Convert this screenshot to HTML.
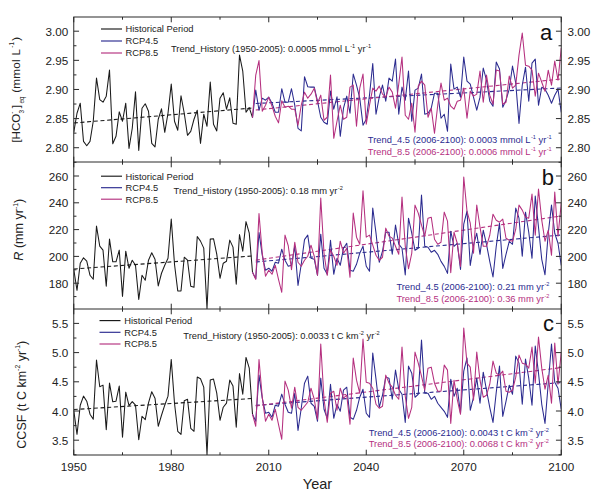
<!DOCTYPE html><html><head><meta charset="utf-8"><style>html,body{margin:0;padding:0;background:#fff}svg{display:block}text{font-family:"Liberation Sans",sans-serif;}</style></head><body>
<svg width="600" height="498" viewBox="0 0 600 498">
<rect width="600" height="498" fill="#fff"/>
<defs>
<clipPath id="c0"><rect x="73.75" y="17.0" width="487.5" height="145.0"/></clipPath>
<clipPath id="c1"><rect x="73.75" y="162.0" width="487.5" height="147.0"/></clipPath>
<clipPath id="c2"><rect x="73.75" y="309.0" width="487.5" height="146.0"/></clipPath>
</defs>
<g clip-path="url(#c0)">
<line x1="73.75" y1="123" x2="252.5" y2="108" stroke="#1a1a1a" stroke-width="1.1" stroke-dasharray="4,2.7"/>
<line x1="255.75" y1="103.5" x2="561.25" y2="88" stroke="#2b2b8f" stroke-width="1.1" stroke-dasharray="4,2.7"/>
<line x1="255.75" y1="110" x2="561.25" y2="79" stroke="#b5307f" stroke-width="1.1" stroke-dasharray="4,2.7"/>
<polyline points="73.75,132.31 77.00,113.23 80.25,103.19 83.50,141.35 86.75,145.76 90.00,141.35 93.25,121.27 96.50,78.09 99.75,99.58 103.00,102.19 106.25,96.16 109.50,70.06 112.75,143.76 116.00,136.33 119.25,111.83 122.50,121.27 125.75,103.19 129.00,148.37 132.25,128.29 135.50,91.75 138.75,150.38 142.00,108.21 145.25,103.80 148.50,111.22 151.75,143.35 155.00,146.97 158.25,119.26 161.50,108.82 164.75,132.31 168.00,113.23 171.25,84.12 174.50,121.27 177.75,130.30 181.00,95.76 184.25,113.23 187.50,135.32 190.75,131.31 194.00,119.26 197.25,110.22 200.50,143.35 203.75,114.24 207.00,126.29 210.25,82.11 213.50,124.28 216.75,130.90 220.00,98.17 223.25,92.75 226.50,109.22 229.75,97.77 233.00,123.27 236.25,124.28 239.50,55.00 242.75,71.06 246.00,112.23 249.25,107.61 252.50,117.65" fill="none" stroke="#1a1a1a" stroke-width="1.05" stroke-linejoin="round"/>
<polyline points="252.50,117.65 255.75,90.14 259.00,110.22 262.25,98.17 265.50,100.18 268.75,97.17 272.00,103.19 275.25,112.23 278.50,112.23 281.75,88.73 285.00,102.19 288.25,102.19 291.50,88.73 294.75,105.20 298.00,128.29 301.25,130.90 304.50,76.69 307.75,86.73 311.00,87.13 314.25,87.13 317.50,101.18 320.75,117.25 324.00,122.27 327.25,124.28 330.50,91.14 333.75,109.22 337.00,96.77 340.25,136.33 343.50,108.21 346.75,96.16 350.00,113.23 353.25,74.08 356.50,85.12 359.75,98.17 363.00,125.28 366.25,119.26 369.50,95.16 372.75,63.43 376.00,114.24 379.25,97.17 382.50,85.12 385.75,101.18 389.00,78.09 392.25,81.10 395.50,59.02 398.75,114.24 402.00,87.13 405.25,100.18 408.50,71.06 411.75,121.27 415.00,90.14 418.25,88.13 421.50,74.08 424.75,114.24 428.00,113.23 431.25,108.21 434.50,93.15 437.75,93.15 441.00,118.25 444.25,114.24 447.50,131.31 450.75,64.04 454.00,89.14 457.25,87.13 460.50,97.17 463.75,57.01 467.00,81.10 470.25,84.12 473.50,97.17 476.75,110.22 480.00,97.17 483.25,68.05 486.50,80.10 489.75,101.18 493.00,106.20 496.25,62.03 499.50,69.06 502.75,107.21 506.00,100.18 509.25,89.14 512.50,66.04 515.75,83.11 519.00,123.39 522.25,85.24 525.50,67.17 528.75,101.31 532.00,63.15 535.25,59.14 538.50,105.32 541.75,87.25 545.00,89.26 548.25,95.28 551.50,103.31 554.75,95.28 558.00,89.26 561.25,112.35" fill="none" stroke="#2b2b8f" stroke-width="1.05" stroke-linejoin="round"/>
<polyline points="252.50,117.65 255.75,75.08 259.00,60.62 262.25,111.22 265.50,105.20 268.75,97.17 272.00,106.20 275.25,116.24 278.50,122.87 281.75,100.78 285.00,107.21 288.25,106.20 291.50,109.22 294.75,109.22 298.00,125.28 301.25,105.20 304.50,92.15 307.75,98.17 311.00,94.16 314.25,88.13 317.50,103.19 320.75,95.16 324.00,120.26 327.25,117.25 330.50,75.08 333.75,138.33 337.00,121.27 340.25,105.20 343.50,119.26 346.75,117.25 350.00,87.13 353.25,85.12 356.50,126.29 359.75,88.13 363.00,74.08 366.25,124.28 369.50,105.20 372.75,88.13 376.00,91.14 379.25,86.12 382.50,94.16 385.75,97.17 389.00,87.13 392.25,92.15 395.50,108.21 398.75,84.12 402.00,57.01 405.25,115.24 408.50,119.26 411.75,103.19 415.00,132.31 418.25,86.12 421.50,81.10 424.75,85.12 428.00,117.25 431.25,108.21 434.50,133.31 437.75,105.20 441.00,83.11 444.25,100.18 447.50,98.17 450.75,106.20 454.00,109.22 457.25,101.18 460.50,100.18 463.75,88.13 467.00,118.25 470.25,91.14 473.50,96.16 476.75,94.16 480.00,71.06 483.25,102.19 486.50,75.08 489.75,95.16 493.00,104.20 496.25,70.06 499.50,71.06 502.75,104.20 506.00,102.19 509.25,76.08 512.50,88.13 515.75,85.12 519.00,55.12 522.25,33.03 525.50,65.16 528.75,66.16 532.00,70.18 535.25,96.29 538.50,73.19 541.75,82.23 545.00,91.27 548.25,70.18 551.50,85.24 554.75,61.14 558.00,80.22 561.25,48.09" fill="none" stroke="#b5307f" stroke-width="1.05" stroke-linejoin="round"/>
</g>
<g clip-path="url(#c1)">
<line x1="73.75" y1="269" x2="252.5" y2="256" stroke="#1a1a1a" stroke-width="1.1" stroke-dasharray="4,2.7"/>
<line x1="255.75" y1="262" x2="561.25" y2="235" stroke="#2b2b8f" stroke-width="1.1" stroke-dasharray="4,2.7"/>
<line x1="255.75" y1="260.2" x2="561.25" y2="216" stroke="#b5307f" stroke-width="1.1" stroke-dasharray="4,2.7"/>
<polyline points="73.75,269.24 77.00,290.32 80.25,263.21 83.50,257.79 86.75,261.20 90.00,275.26 93.25,279.28 96.50,226.06 99.75,246.14 103.00,250.16 106.25,286.31 109.50,239.12 112.75,261.81 116.00,261.81 119.25,250.16 122.50,296.35 125.75,251.16 129.00,268.23 132.25,260.20 135.50,265.22 138.75,299.36 142.00,275.26 145.25,280.28 148.50,260.20 151.75,252.77 155.00,259.20 158.25,285.90 161.50,273.25 164.75,265.22 168.00,258.19 171.25,219.04 174.50,264.22 177.75,290.92 181.00,290.92 184.25,257.19 187.50,260.20 190.75,286.31 194.00,287.31 197.25,236.51 200.50,241.12 203.75,248.15 207.00,308.80 210.25,239.12 213.50,238.71 216.75,254.18 220.00,278.27 223.25,263.21 226.50,261.20 229.75,240.12 233.00,247.15 236.25,284.30 239.50,234.50 242.75,251.16 246.00,221.65 249.25,233.09 252.50,272.25" fill="none" stroke="#1a1a1a" stroke-width="1.05" stroke-linejoin="round"/>
<polyline points="252.50,272.25 255.75,278.88 259.00,232.49 262.25,255.18 265.50,270.24 268.75,268.23 272.00,271.24 275.25,262.21 278.50,263.21 281.75,249.16 285.00,260.20 288.25,266.22 291.50,265.22 294.75,246.20 298.00,285.36 301.25,264.28 304.50,239.58 307.75,235.16 311.00,258.25 314.25,259.26 317.50,275.32 320.75,234.16 324.00,268.29 327.25,274.32 330.50,240.18 333.75,274.32 337.00,258.25 340.25,265.28 343.50,248.21 346.75,243.19 350.00,270.30 353.25,271.31 356.50,264.28 359.75,253.23 363.00,246.20 366.25,266.29 369.50,271.31 372.75,208.05 376.00,233.15 379.25,262.27 382.50,251.22 385.75,232.15 389.00,232.15 392.25,254.24 395.50,225.12 398.75,244.20 402.00,248.29 405.25,275.00 408.50,218.17 411.75,233.23 415.00,250.30 418.25,248.29 421.50,195.08 424.75,246.29 428.00,247.29 431.25,252.31 434.50,250.30 437.75,254.32 441.00,261.35 444.25,266.37 447.50,273.39 450.75,231.22 454.00,246.29 457.25,243.27 460.50,269.38 463.75,224.20 467.00,211.14 470.25,265.36 473.50,245.28 476.75,233.23 480.00,254.32 483.25,230.22 486.50,244.28 489.75,261.35 493.00,277.01 496.25,246.29 499.50,223.19 502.75,268.37 506.00,254.32 509.25,241.27 512.50,244.28 515.75,208.13 519.00,218.17 522.25,256.33 525.50,212.15 528.75,232.23 532.00,258.33 535.25,196.08 538.50,227.21 541.75,259.34 545.00,274.80 548.25,233.23 551.50,205.12 554.75,233.23 558.00,243.27 561.25,265.36" fill="none" stroke="#2b2b8f" stroke-width="1.05" stroke-linejoin="round"/>
<polyline points="252.50,272.25 255.75,279.28 259.00,213.61 262.25,253.17 265.50,276.27 268.75,270.24 272.00,274.26 275.25,265.22 278.50,279.28 281.75,292.33 285.00,235.10 288.25,245.74 291.50,269.64 294.75,242.19 298.00,262.27 301.25,266.29 304.50,260.26 307.75,256.24 311.00,245.20 314.25,256.24 317.50,275.32 320.75,198.01 324.00,253.23 327.25,275.32 330.50,250.22 333.75,256.24 337.00,265.28 340.25,241.18 343.50,253.23 346.75,248.21 350.00,277.33 353.25,213.07 356.50,237.17 359.75,244.20 363.00,190.78 366.25,237.17 369.50,235.16 372.75,245.20 376.00,255.24 379.25,260.26 382.50,257.25 385.75,228.13 389.00,236.16 392.25,238.17 395.50,246.20 398.75,254.24 402.00,197.09 405.25,246.29 408.50,268.78 411.75,253.31 415.00,205.12 418.25,213.15 421.50,225.20 424.75,236.24 428.00,218.17 431.25,217.17 434.50,239.26 437.75,244.28 441.00,242.27 444.25,212.15 447.50,221.18 450.75,272.79 454.00,232.23 457.25,243.27 460.50,266.37 463.75,177.01 467.00,211.14 470.25,223.19 473.50,253.31 476.75,205.12 480.00,227.21 483.25,246.29 486.50,246.29 489.75,235.24 493.00,214.16 496.25,220.18 499.50,222.19 502.75,219.18 506.00,238.25 509.25,240.26 512.50,241.27 515.75,229.22 519.00,205.12 522.25,210.14 525.50,217.17 528.75,218.17 532.00,194.08 535.25,235.24 538.50,189.06 541.75,220.18 545.00,241.27 548.25,230.22 551.50,255.32 554.75,192.07 558.00,236.24 561.25,203.11" fill="none" stroke="#b5307f" stroke-width="1.05" stroke-linejoin="round"/>
</g>
<g clip-path="url(#c2)">
<line x1="73.75" y1="409.5" x2="252.5" y2="398.5" stroke="#1a1a1a" stroke-width="1.1" stroke-dasharray="4,2.7"/>
<line x1="255.75" y1="405.4" x2="561.25" y2="382.6" stroke="#2b2b8f" stroke-width="1.1" stroke-dasharray="4,2.7"/>
<line x1="255.75" y1="405.9" x2="561.25" y2="367.6" stroke="#b5307f" stroke-width="1.1" stroke-dasharray="4,2.7"/>
<polyline points="73.75,410.22 77.00,434.32 80.25,405.20 83.50,396.16 86.75,401.18 90.00,414.24 93.25,419.26 96.50,360.02 99.75,386.73 103.00,385.12 106.25,429.70 109.50,383.11 112.75,401.79 116.00,401.18 119.25,386.12 122.50,437.33 125.75,392.15 129.00,405.60 132.25,401.59 135.50,405.20 138.75,439.74 142.00,416.24 145.25,419.66 148.50,402.79 151.75,391.75 155.00,398.17 158.25,426.29 161.50,415.24 164.75,405.20 168.00,396.16 171.25,359.42 174.50,403.19 177.75,431.31 181.00,434.32 184.25,400.78 187.50,399.18 190.75,428.29 194.00,431.31 197.25,377.09 200.50,378.69 203.75,387.13 207.00,454.80 210.25,380.10 213.50,379.10 216.75,393.15 220.00,420.26 223.25,407.21 226.50,403.19 229.75,380.10 233.00,386.12 236.25,427.29 239.50,373.47 242.75,394.16 246.00,357.41 249.25,368.05 252.50,414.24" fill="none" stroke="#1a1a1a" stroke-width="1.05" stroke-linejoin="round"/>
<polyline points="252.50,414.24 255.75,421.27 259.00,375.08 262.25,398.17 265.50,413.23 268.75,412.23 272.00,417.25 275.25,405.20 278.50,406.20 281.75,394.16 285.00,404.20 288.25,412.23 291.50,413.23 294.75,393.21 298.00,430.36 301.25,408.27 304.50,383.17 307.75,376.14 311.00,403.25 314.25,406.27 317.50,421.33 320.75,378.15 324.00,409.28 327.25,418.31 330.50,384.18 333.75,418.31 337.00,404.26 340.25,411.29 343.50,390.20 346.75,387.19 350.00,417.31 353.25,419.32 356.50,410.28 359.75,397.23 363.00,389.20 366.25,413.29 369.50,417.31 372.75,353.05 376.00,379.16 379.25,407.27 382.50,395.22 385.75,377.15 389.00,378.15 392.25,399.24 395.50,370.12 398.75,389.20 402.00,394.26 405.25,422.37 408.50,366.14 411.75,373.17 415.00,397.27 418.25,394.26 421.50,340.04 424.75,393.25 428.00,393.25 431.25,399.28 434.50,396.27 437.75,403.29 441.00,407.31 444.25,411.33 447.50,417.35 450.75,379.20 454.00,396.27 457.25,388.23 460.50,413.33 463.75,371.16 467.00,358.11 470.25,410.32 473.50,397.27 476.75,378.19 480.00,403.29 483.25,372.17 486.50,390.24 489.75,407.31 493.00,422.37 496.25,392.25 499.50,366.14 502.75,416.35 506.00,401.29 509.25,385.22 512.50,394.26 515.75,356.10 519.00,363.13 522.25,404.30 525.50,359.12 528.75,378.19 532.00,405.30 535.25,346.06 538.50,373.17 541.75,404.30 545.00,423.37 548.25,383.21 551.50,344.06 554.75,382.21 558.00,388.23 561.25,409.32" fill="none" stroke="#2b2b8f" stroke-width="1.05" stroke-linejoin="round"/>
<polyline points="252.50,414.24 255.75,426.29 259.00,359.42 262.25,397.17 265.50,421.27 268.75,414.24 272.00,420.26 275.25,409.22 278.50,424.28 281.75,439.34 285.00,381.10 288.25,390.14 291.50,408.21 294.75,387.19 298.00,407.27 301.25,410.28 304.50,406.27 307.75,402.25 311.00,388.19 314.25,399.24 317.50,419.32 320.75,344.02 324.00,399.24 327.25,422.33 330.50,393.21 333.75,391.20 337.00,410.28 340.25,388.19 343.50,398.23 346.75,395.22 350.00,424.34 353.25,358.07 356.50,380.16 359.75,393.21 363.00,339.00 366.25,382.17 369.50,383.17 372.75,388.19 376.00,404.26 379.25,408.27 382.50,406.27 385.75,375.14 389.00,383.17 392.25,387.19 395.50,395.22 398.75,399.24 402.00,347.07 405.25,396.27 408.50,418.35 411.75,407.31 415.00,352.09 418.25,363.13 421.50,376.18 424.75,390.24 428.00,368.15 431.25,367.15 434.50,383.21 437.75,391.24 441.00,391.24 444.25,365.14 447.50,370.16 450.75,423.37 454.00,380.20 457.25,399.28 460.50,414.34 463.75,327.99 467.00,363.13 470.25,367.15 473.50,400.28 476.75,352.09 480.00,380.20 483.25,397.27 486.50,395.26 489.75,384.22 493.00,361.12 496.25,373.17 499.50,375.18 502.75,371.16 506.00,391.24 509.25,392.25 512.50,390.24 515.75,377.19 519.00,355.10 522.25,363.13 525.50,364.14 528.75,368.15 532.00,347.07 535.25,383.21 538.50,337.03 541.75,368.15 545.00,389.24 548.25,375.18 551.50,403.29 554.75,343.05 558.00,384.22 561.25,352.09" fill="none" stroke="#b5307f" stroke-width="1.05" stroke-linejoin="round"/>
</g>
<g stroke="#2a2a2a" stroke-width="1" fill="none">
<rect x="73.75" y="17.0" width="487.5" height="438.0"/>
<line x1="73.75" y1="162.0" x2="561.25" y2="162.0"/>
<line x1="73.75" y1="309.0" x2="561.25" y2="309.0"/>
<line x1="73.75" y1="17.0" x2="73.75" y2="22.3"/>
<line x1="73.75" y1="162.0" x2="73.75" y2="156.7"/>
<line x1="73.75" y1="162.0" x2="73.75" y2="167.3"/>
<line x1="73.75" y1="309.0" x2="73.75" y2="303.7"/>
<line x1="73.75" y1="309.0" x2="73.75" y2="314.3"/>
<line x1="73.75" y1="455.0" x2="73.75" y2="449.7"/>
<line x1="122.5" y1="17.0" x2="122.5" y2="19.7"/>
<line x1="122.5" y1="162.0" x2="122.5" y2="159.3"/>
<line x1="122.5" y1="162.0" x2="122.5" y2="164.7"/>
<line x1="122.5" y1="309.0" x2="122.5" y2="306.3"/>
<line x1="122.5" y1="309.0" x2="122.5" y2="311.7"/>
<line x1="122.5" y1="455.0" x2="122.5" y2="452.3"/>
<line x1="171.25" y1="17.0" x2="171.25" y2="22.3"/>
<line x1="171.25" y1="162.0" x2="171.25" y2="156.7"/>
<line x1="171.25" y1="162.0" x2="171.25" y2="167.3"/>
<line x1="171.25" y1="309.0" x2="171.25" y2="303.7"/>
<line x1="171.25" y1="309.0" x2="171.25" y2="314.3"/>
<line x1="171.25" y1="455.0" x2="171.25" y2="449.7"/>
<line x1="220.0" y1="17.0" x2="220.0" y2="19.7"/>
<line x1="220.0" y1="162.0" x2="220.0" y2="159.3"/>
<line x1="220.0" y1="162.0" x2="220.0" y2="164.7"/>
<line x1="220.0" y1="309.0" x2="220.0" y2="306.3"/>
<line x1="220.0" y1="309.0" x2="220.0" y2="311.7"/>
<line x1="220.0" y1="455.0" x2="220.0" y2="452.3"/>
<line x1="268.75" y1="17.0" x2="268.75" y2="22.3"/>
<line x1="268.75" y1="162.0" x2="268.75" y2="156.7"/>
<line x1="268.75" y1="162.0" x2="268.75" y2="167.3"/>
<line x1="268.75" y1="309.0" x2="268.75" y2="303.7"/>
<line x1="268.75" y1="309.0" x2="268.75" y2="314.3"/>
<line x1="268.75" y1="455.0" x2="268.75" y2="449.7"/>
<line x1="317.5" y1="17.0" x2="317.5" y2="19.7"/>
<line x1="317.5" y1="162.0" x2="317.5" y2="159.3"/>
<line x1="317.5" y1="162.0" x2="317.5" y2="164.7"/>
<line x1="317.5" y1="309.0" x2="317.5" y2="306.3"/>
<line x1="317.5" y1="309.0" x2="317.5" y2="311.7"/>
<line x1="317.5" y1="455.0" x2="317.5" y2="452.3"/>
<line x1="366.25" y1="17.0" x2="366.25" y2="22.3"/>
<line x1="366.25" y1="162.0" x2="366.25" y2="156.7"/>
<line x1="366.25" y1="162.0" x2="366.25" y2="167.3"/>
<line x1="366.25" y1="309.0" x2="366.25" y2="303.7"/>
<line x1="366.25" y1="309.0" x2="366.25" y2="314.3"/>
<line x1="366.25" y1="455.0" x2="366.25" y2="449.7"/>
<line x1="415.0" y1="17.0" x2="415.0" y2="19.7"/>
<line x1="415.0" y1="162.0" x2="415.0" y2="159.3"/>
<line x1="415.0" y1="162.0" x2="415.0" y2="164.7"/>
<line x1="415.0" y1="309.0" x2="415.0" y2="306.3"/>
<line x1="415.0" y1="309.0" x2="415.0" y2="311.7"/>
<line x1="415.0" y1="455.0" x2="415.0" y2="452.3"/>
<line x1="463.75" y1="17.0" x2="463.75" y2="22.3"/>
<line x1="463.75" y1="162.0" x2="463.75" y2="156.7"/>
<line x1="463.75" y1="162.0" x2="463.75" y2="167.3"/>
<line x1="463.75" y1="309.0" x2="463.75" y2="303.7"/>
<line x1="463.75" y1="309.0" x2="463.75" y2="314.3"/>
<line x1="463.75" y1="455.0" x2="463.75" y2="449.7"/>
<line x1="512.5" y1="17.0" x2="512.5" y2="19.7"/>
<line x1="512.5" y1="162.0" x2="512.5" y2="159.3"/>
<line x1="512.5" y1="162.0" x2="512.5" y2="164.7"/>
<line x1="512.5" y1="309.0" x2="512.5" y2="306.3"/>
<line x1="512.5" y1="309.0" x2="512.5" y2="311.7"/>
<line x1="512.5" y1="455.0" x2="512.5" y2="452.3"/>
<line x1="561.25" y1="17.0" x2="561.25" y2="22.3"/>
<line x1="561.25" y1="162.0" x2="561.25" y2="156.7"/>
<line x1="561.25" y1="162.0" x2="561.25" y2="167.3"/>
<line x1="561.25" y1="309.0" x2="561.25" y2="303.7"/>
<line x1="561.25" y1="309.0" x2="561.25" y2="314.3"/>
<line x1="561.25" y1="455.0" x2="561.25" y2="449.7"/>
<line x1="73.75" y1="147.72" x2="79.05" y2="147.72"/>
<line x1="561.25" y1="147.72" x2="555.95" y2="147.72"/>
<line x1="73.75" y1="118.59" x2="79.05" y2="118.59"/>
<line x1="561.25" y1="118.59" x2="555.95" y2="118.59"/>
<line x1="73.75" y1="89.46" x2="79.05" y2="89.46"/>
<line x1="561.25" y1="89.46" x2="555.95" y2="89.46"/>
<line x1="73.75" y1="60.33" x2="79.05" y2="60.33"/>
<line x1="561.25" y1="60.33" x2="555.95" y2="60.33"/>
<line x1="73.75" y1="31.20" x2="79.05" y2="31.20"/>
<line x1="561.25" y1="31.20" x2="555.95" y2="31.20"/>
<line x1="73.75" y1="162.29" x2="76.45" y2="162.29"/>
<line x1="561.25" y1="162.29" x2="558.55" y2="162.29"/>
<line x1="73.75" y1="133.15" x2="76.45" y2="133.15"/>
<line x1="561.25" y1="133.15" x2="558.55" y2="133.15"/>
<line x1="73.75" y1="104.03" x2="76.45" y2="104.03"/>
<line x1="561.25" y1="104.03" x2="558.55" y2="104.03"/>
<line x1="73.75" y1="74.90" x2="76.45" y2="74.90"/>
<line x1="561.25" y1="74.90" x2="558.55" y2="74.90"/>
<line x1="73.75" y1="45.76" x2="76.45" y2="45.76"/>
<line x1="561.25" y1="45.76" x2="558.55" y2="45.76"/>
<line x1="73.75" y1="283.20" x2="79.05" y2="283.20"/>
<line x1="561.25" y1="283.20" x2="555.95" y2="283.20"/>
<line x1="73.75" y1="256.40" x2="79.05" y2="256.40"/>
<line x1="561.25" y1="256.40" x2="555.95" y2="256.40"/>
<line x1="73.75" y1="229.60" x2="79.05" y2="229.60"/>
<line x1="561.25" y1="229.60" x2="555.95" y2="229.60"/>
<line x1="73.75" y1="202.80" x2="79.05" y2="202.80"/>
<line x1="561.25" y1="202.80" x2="555.95" y2="202.80"/>
<line x1="73.75" y1="176.00" x2="79.05" y2="176.00"/>
<line x1="561.25" y1="176.00" x2="555.95" y2="176.00"/>
<line x1="73.75" y1="296.60" x2="76.45" y2="296.60"/>
<line x1="561.25" y1="296.60" x2="558.55" y2="296.60"/>
<line x1="73.75" y1="269.80" x2="76.45" y2="269.80"/>
<line x1="561.25" y1="269.80" x2="558.55" y2="269.80"/>
<line x1="73.75" y1="243.00" x2="76.45" y2="243.00"/>
<line x1="561.25" y1="243.00" x2="558.55" y2="243.00"/>
<line x1="73.75" y1="216.20" x2="76.45" y2="216.20"/>
<line x1="561.25" y1="216.20" x2="558.55" y2="216.20"/>
<line x1="73.75" y1="189.40" x2="76.45" y2="189.40"/>
<line x1="561.25" y1="189.40" x2="558.55" y2="189.40"/>
<line x1="73.75" y1="440.20" x2="79.05" y2="440.20"/>
<line x1="561.25" y1="440.20" x2="555.95" y2="440.20"/>
<line x1="73.75" y1="411.00" x2="79.05" y2="411.00"/>
<line x1="561.25" y1="411.00" x2="555.95" y2="411.00"/>
<line x1="73.75" y1="381.80" x2="79.05" y2="381.80"/>
<line x1="561.25" y1="381.80" x2="555.95" y2="381.80"/>
<line x1="73.75" y1="352.60" x2="79.05" y2="352.60"/>
<line x1="561.25" y1="352.60" x2="555.95" y2="352.60"/>
<line x1="73.75" y1="323.40" x2="79.05" y2="323.40"/>
<line x1="561.25" y1="323.40" x2="555.95" y2="323.40"/>
<line x1="73.75" y1="454.80" x2="76.45" y2="454.80"/>
<line x1="561.25" y1="454.80" x2="558.55" y2="454.80"/>
<line x1="73.75" y1="425.60" x2="76.45" y2="425.60"/>
<line x1="561.25" y1="425.60" x2="558.55" y2="425.60"/>
<line x1="73.75" y1="396.40" x2="76.45" y2="396.40"/>
<line x1="561.25" y1="396.40" x2="558.55" y2="396.40"/>
<line x1="73.75" y1="367.20" x2="76.45" y2="367.20"/>
<line x1="561.25" y1="367.20" x2="558.55" y2="367.20"/>
<line x1="73.75" y1="338.00" x2="76.45" y2="338.00"/>
<line x1="561.25" y1="338.00" x2="558.55" y2="338.00"/>
</g>
<text x="68.2" y="152.22" font-size="11.7" fill="#222" text-anchor="end">2.80</text>
<text x="567.5" y="152.22" font-size="11.7" fill="#222" text-anchor="start">2.80</text>
<text x="68.2" y="123.09" font-size="11.7" fill="#222" text-anchor="end">2.85</text>
<text x="567.5" y="123.09" font-size="11.7" fill="#222" text-anchor="start">2.85</text>
<text x="68.2" y="93.96" font-size="11.7" fill="#222" text-anchor="end">2.90</text>
<text x="567.5" y="93.96" font-size="11.7" fill="#222" text-anchor="start">2.90</text>
<text x="68.2" y="64.83" font-size="11.7" fill="#222" text-anchor="end">2.95</text>
<text x="567.5" y="64.83" font-size="11.7" fill="#222" text-anchor="start">2.95</text>
<text x="68.2" y="35.70" font-size="11.7" fill="#222" text-anchor="end">3.00</text>
<text x="567.5" y="35.70" font-size="11.7" fill="#222" text-anchor="start">3.00</text>
<text x="68.2" y="287.70" font-size="11.7" fill="#222" text-anchor="end">180</text>
<text x="567.5" y="287.70" font-size="11.7" fill="#222" text-anchor="start">180</text>
<text x="68.2" y="260.90" font-size="11.7" fill="#222" text-anchor="end">200</text>
<text x="567.5" y="260.90" font-size="11.7" fill="#222" text-anchor="start">200</text>
<text x="68.2" y="234.10" font-size="11.7" fill="#222" text-anchor="end">220</text>
<text x="567.5" y="234.10" font-size="11.7" fill="#222" text-anchor="start">220</text>
<text x="68.2" y="207.30" font-size="11.7" fill="#222" text-anchor="end">240</text>
<text x="567.5" y="207.30" font-size="11.7" fill="#222" text-anchor="start">240</text>
<text x="68.2" y="180.50" font-size="11.7" fill="#222" text-anchor="end">260</text>
<text x="567.5" y="180.50" font-size="11.7" fill="#222" text-anchor="start">260</text>
<text x="68.2" y="444.70" font-size="11.7" fill="#222" text-anchor="end">3.5</text>
<text x="567.5" y="444.70" font-size="11.7" fill="#222" text-anchor="start">3.5</text>
<text x="68.2" y="415.50" font-size="11.7" fill="#222" text-anchor="end">4.0</text>
<text x="567.5" y="415.50" font-size="11.7" fill="#222" text-anchor="start">4.0</text>
<text x="68.2" y="386.30" font-size="11.7" fill="#222" text-anchor="end">4.5</text>
<text x="567.5" y="386.30" font-size="11.7" fill="#222" text-anchor="start">4.5</text>
<text x="68.2" y="357.10" font-size="11.7" fill="#222" text-anchor="end">5.0</text>
<text x="567.5" y="357.10" font-size="11.7" fill="#222" text-anchor="start">5.0</text>
<text x="68.2" y="327.90" font-size="11.7" fill="#222" text-anchor="end">5.5</text>
<text x="567.5" y="327.90" font-size="11.7" fill="#222" text-anchor="start">5.5</text>
<text x="73.75" y="471" font-size="11.7" fill="#222" text-anchor="middle">1950</text>
<text x="171.25" y="471" font-size="11.7" fill="#222" text-anchor="middle">1980</text>
<text x="268.75" y="471" font-size="11.7" fill="#222" text-anchor="middle">2010</text>
<text x="366.25" y="471" font-size="11.7" fill="#222" text-anchor="middle">2040</text>
<text x="463.75" y="471" font-size="11.7" fill="#222" text-anchor="middle">2070</text>
<text x="561.25" y="471" font-size="11.7" fill="#222" text-anchor="middle">2100</text>
<text x="317.5" y="489" font-size="14.5" fill="#222" text-anchor="middle">Year</text>
<text x="546" y="40" font-size="22" fill="#111" text-anchor="middle">a</text>
<text x="547.8" y="185.2" font-size="22" fill="#111" text-anchor="middle">b</text>
<text x="548.4" y="330.7" font-size="22" fill="#111" text-anchor="middle">c</text>
<line x1="101" y1="29.0" x2="122" y2="29.0" stroke="#1a1a1a" stroke-width="1.15"/>
<text x="125.5" y="32.4" font-size="9.35" fill="#222">Historical Period</text>
<line x1="101" y1="41.0" x2="122" y2="41.0" stroke="#2b2b8f" stroke-width="1.15"/>
<text x="125.5" y="44.4" font-size="9.35" fill="#222">RCP4.5</text>
<line x1="101" y1="53.0" x2="122" y2="53.0" stroke="#b5307f" stroke-width="1.15"/>
<text x="125.5" y="56.4" font-size="9.35" fill="#222">RCP8.5</text>
<line x1="101" y1="176.2" x2="122" y2="176.2" stroke="#1a1a1a" stroke-width="1.15"/>
<text x="125.5" y="179.6" font-size="9.35" fill="#222">Historical Period</text>
<line x1="101" y1="187.7" x2="122" y2="187.7" stroke="#2b2b8f" stroke-width="1.15"/>
<text x="125.5" y="191.1" font-size="9.35" fill="#222">RCP4.5</text>
<line x1="101" y1="199.2" x2="122" y2="199.2" stroke="#b5307f" stroke-width="1.15"/>
<text x="125.5" y="202.6" font-size="9.35" fill="#222">RCP8.5</text>
<line x1="99.5" y1="320.6" x2="120.5" y2="320.6" stroke="#1a1a1a" stroke-width="1.15"/>
<text x="124.2" y="324.0" font-size="9.35" fill="#222">Historical Period</text>
<line x1="99.5" y1="332.3" x2="120.5" y2="332.3" stroke="#2b2b8f" stroke-width="1.15"/>
<text x="124.2" y="335.7" font-size="9.35" fill="#222">RCP4.5</text>
<line x1="99.5" y1="344.0" x2="120.5" y2="344.0" stroke="#b5307f" stroke-width="1.15"/>
<text x="124.2" y="347.4" font-size="9.35" fill="#222">RCP8.5</text>
<text x="171" y="51.5" font-size="9.35" fill="#222" text-anchor="start">Trend_History (1950-2005): 0.0005 mmol L<tspan dx="0.4" dy="-3.9" font-size="5.6">-1</tspan><tspan dy="3.9" font-size="5.6">​</tspan> yr<tspan dx="0.4" dy="-3.9" font-size="5.6">-1</tspan><tspan dy="3.9" font-size="5.6">​</tspan></text>
<text x="367.8" y="143.2" font-size="9.35" fill="#2b2b8f" text-anchor="start">Trend_4.5 (2006-2100): 0.0003 mmol L<tspan dx="0.4" dy="-3.9" font-size="5.6">-1</tspan><tspan dy="3.9" font-size="5.6">​</tspan> yr<tspan dx="0.4" dy="-3.9" font-size="5.6">-1</tspan><tspan dy="3.9" font-size="5.6">​</tspan></text>
<text x="367.8" y="155" font-size="9.35" fill="#b5307f" text-anchor="start">Trend_8.5 (2006-2100): 0.0006 mmol L<tspan dx="0.4" dy="-3.9" font-size="5.6">-1</tspan><tspan dy="3.9" font-size="5.6">​</tspan> yr<tspan dx="0.4" dy="-3.9" font-size="5.6">-1</tspan><tspan dy="3.9" font-size="5.6">​</tspan></text>
<text x="173.6" y="193.5" font-size="9.35" fill="#222" text-anchor="start">Trend_History (1950-2005): 0.18 mm yr<tspan dx="0.4" dy="-3.9" font-size="5.6">-2</tspan><tspan dy="3.9" font-size="5.6">​</tspan></text>
<text x="396.4" y="289.8" font-size="9.35" fill="#2b2b8f" text-anchor="start">Trend_4.5 (2006-2100): 0.21 mm yr<tspan dx="0.4" dy="-3.9" font-size="5.6">-2</tspan><tspan dy="3.9" font-size="5.6">​</tspan></text>
<text x="396.4" y="301.8" font-size="9.35" fill="#b5307f" text-anchor="start">Trend_8.5 (2006-2100): 0.36 mm yr<tspan dx="0.4" dy="-3.9" font-size="5.6">-2</tspan><tspan dy="3.9" font-size="5.6">​</tspan></text>
<text x="183.3" y="338.8" font-size="9.35" fill="#222" text-anchor="start">Trend_History (1950-2005): 0.0033 t C km<tspan dx="0.4" dy="-3.9" font-size="5.6">-2</tspan><tspan dy="3.9" font-size="5.6">​</tspan> yr<tspan dx="0.4" dy="-3.9" font-size="5.6">-2</tspan><tspan dy="3.9" font-size="5.6">​</tspan></text>
<text x="368.7" y="435.6" font-size="9.35" fill="#2b2b8f" text-anchor="start">Trend_4.5 (2006-2100): 0.0043 t C km<tspan dx="0.4" dy="-3.9" font-size="5.6">-2</tspan><tspan dy="3.9" font-size="5.6">​</tspan> yr<tspan dx="0.4" dy="-3.9" font-size="5.6">-2</tspan><tspan dy="3.9" font-size="5.6">​</tspan></text>
<text x="368.7" y="447.2" font-size="9.35" fill="#b5307f" text-anchor="start">Trend_8.5 (2006-2100): 0.0068 t C km<tspan dx="0.4" dy="-3.9" font-size="5.6">-2</tspan><tspan dy="3.9" font-size="5.6">​</tspan> yr<tspan dx="0.4" dy="-3.9" font-size="5.6">-2</tspan><tspan dy="3.9" font-size="5.6">​</tspan></text>
<text transform="translate(19.7,142.6) rotate(-90)" font-size="11.6" fill="#222" text-anchor="start">[HCO<tspan dy="4.6" font-size="6.4">3</tspan><tspan dx="-3.6" dy="-10.2" font-size="6.4">-</tspan><tspan dx="3.2" dy="5.6">]</tspan><tspan dx="1.6" dy="4.6" font-size="6.4">eq</tspan><tspan dy="-4.6" letter-spacing="0.33"> (mmol L</tspan><tspan dx="1.0" dy="-5.7" font-size="6.4">-1</tspan><tspan dx="1.3" dy="5.7">)</tspan></text>
<text transform="translate(23.2,229.7) rotate(-90)" font-size="12.6" fill="#222" text-anchor="middle"><tspan font-style="italic">R</tspan> (mm yr<tspan dy="-5.7" font-size="6.8">-1</tspan><tspan dy="5.7" font-size="6.8">​</tspan>)</text>
<text transform="translate(26,394.7) rotate(-90)" font-size="12.5" fill="#222" text-anchor="middle">CCSF (t C km<tspan dy="-5.7" font-size="6.8">-2</tspan><tspan dy="5.7" font-size="6.8">​</tspan> yr<tspan dy="-5.7" font-size="6.8">-1</tspan><tspan dy="5.7" font-size="6.8">​</tspan>)</text>
</svg></body></html>
